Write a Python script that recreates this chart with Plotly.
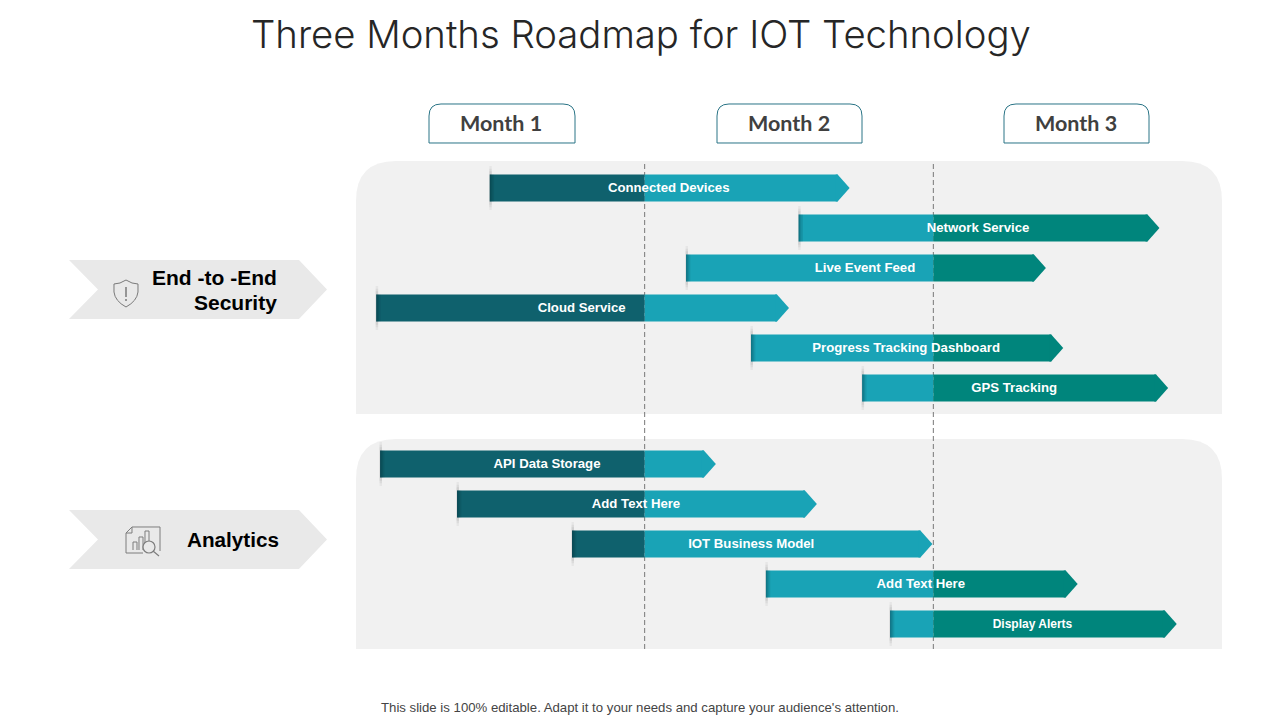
import plotly.graph_objects as go

W, H = 1280, 720
TITLE = "Three Months Roadmap for IOT Technology"
FOOTER = "This slide is 100% editable. Adapt it to your needs and capture your audience's attention."
MONTHS = ["Month 1", "Month 2", "Month 3"]
GROUP_A_LINES = ["End -to -End", "Security"]
GROUP_B = "Analytics"

# Tasks, timing in days from the start of Month 1 (30 days per month)
TASKS_A = ["Connected Devices", "Network Service", "Live Event Feed",
           "Cloud Service", "Progress Tracking Dashboard", "GPS Tracking"]
START_A = [13.9, 46.0, 34.3, 2.1, 41.05, 52.6]
END_A = [51.3, 83.5, 71.7, 45.0, 73.5, 84.4]
TASKS_B = ["API Data Storage", "Add Text Here", "IOT Business Model",
           "Add Text Here", "Display Alerts"]
START_B = [2.5, 10.5, 22.45, 42.6, 55.5]
END_B = [37.4, 47.9, 59.9, 75.0, 85.3]

MONTH_DAYS = 30
PX_PER_DAY = 866 / 90
PX_PER_ROW = 40
X0_PX, Y0_PX = 356, 188
GROUP_GAP = 0.9
COL = ["#0f616d", "#19a3b6", "#00857c"]


def px(x, y):
    return x / W, 1 - y / H


def path(points):
    """points: (cmd, x, y, ...) in pixels -> paper-space SVG path"""
    out = []
    for p in points:
        cmd, nums = p[0], p[1:]
        coords = []
        for i in range(0, len(nums), 2):
            a, b = px(nums[i], nums[i + 1])
            coords.append(f"{a:.5f},{b:.5f}")
        out.append(cmd + " ".join(coords))
    return " ".join(out)


def top_round(x0, y0, x1, y1, r):
    return path([("M", x0, y1), ("L", x0, y0 + r), ("Q", x0, y0, x0 + r, y0),
                 ("L", x1 - r, y0), ("Q", x1, y0, x1, y0 + r), ("L", x1, y1)]) + " Z"


fig = go.Figure()
shapes = []
annots = []


def pshape(d, fill=None, line=None, lw=1, layer="below"):
    shapes.append(dict(type="path", path=d, xref="paper", yref="paper", layer=layer,
                       fillcolor=fill or "rgba(0,0,0,0)",
                       line=dict(color=line or "rgba(0,0,0,0)", width=lw if line else 0)))


def text(x, y, s, size, color="#000", fam="Liberation Sans", anchor="center", bold=False, weight=None):
    a, b = px(x, y)
    font = dict(size=size, color=color, family=fam)
    if weight:
        font["weight"] = weight
    annots.append(dict(x=a, y=b, xref="paper", yref="paper", text=f"<b>{s}</b>" if bold else s,
                       showarrow=False, xanchor=anchor, yanchor="middle", align=anchor, font=font))


# panels
pshape(top_round(356, 161, 1222, 414, 40), fill="#f1f1f1")
pshape(top_round(356, 439, 1222, 649, 40), fill="#f1f1f1")

# dashed month boundaries
for m in (1, 2):
    shapes.append(dict(type="line", xref="x", yref="paper", x0=m * MONTH_DAYS, x1=m * MONTH_DAYS,
                       y0=1 - 649 / H, y1=1 - 161 / H, layer="below",
                       line=dict(color="#777777", width=1, dash="5px,3px")))

# month pills
for name, (a, b) in zip(MONTHS, [(429, 575), (717, 862), (1004, 1149)]):
    d = path([("M", a, 143), ("L", a, 116), ("Q", a, 104, a + 12, 104), ("L", b - 12, 104),
              ("Q", b, 104, b, 116), ("L", b, 143)]) + " Z"
    pshape(d, fill="#ffffff", line="#2a7486", lw=1)
    text((a + b) / 2 - 1, 123.5, name, 21.5, "#404040", "Lato", bold=True)

# group chevrons
for y0, y1 in [(260, 319), (510, 569)]:
    mid = (y0 + y1) / 2
    d = path([("M", 69, y0), ("L", 299, y0), ("L", 327, mid), ("L", 299, y1), ("L", 69, y1),
              ("L", 98, mid)]) + " Z"
    pshape(d, fill="#e9e9e9")
text(279, 277, GROUP_A_LINES[0], 21, "#000", anchor="right", bold=True)
text(279, 302, GROUP_A_LINES[1], 21, "#000", anchor="right", bold=True)
text(233, 539.5, GROUP_B, 20.7, "#000", bold=True)

# shield icon
pshape(path([("M", 126, 280), ("Q", 132, 284, 138, 284), ("L", 138, 292), ("Q", 137, 301, 126, 307),
             ("Q", 115, 301, 114, 292), ("L", 114, 284), ("Q", 120, 284, 126, 280)]) + " Z",
       line="#7a7a7a", lw=1)
pshape(path([("M", 126, 287), ("L", 126, 297), ("M", 126, 299), ("L", 126, 301)]), line="#7a7a7a", lw=1.5)

# analytics icon
pshape(path([("M", 132, 527), ("L", 160, 527), ("L", 160, 551), ("M", 132, 527), ("L", 126, 533),
             ("L", 126, 553), ("L", 143, 553), ("M", 126, 533), ("L", 132, 533), ("L", 132, 527)]),
       line="#7d7d7d", lw=1)
for a, top in [(133, 542), (139, 537), (145, 531)]:
    pshape(path([("M", a, 550), ("L", a, top), ("L", a + 4, top), ("L", a + 4, 550)]), line="#7d7d7d", lw=1)
shapes.append(dict(type="circle", xref="paper", yref="paper", x0=143 / W, x1=155 / W,
                   y0=1 - 553 / H, y1=1 - 541 / H, line=dict(color="#7d7d7d", width=1.2),
                   fillcolor="#e9e9e9", layer="below"))
pshape(path([("M", 153, 551), ("L", 159, 556)]), line="#7d7d7d", lw=1.2)

# rows
tasks = TASKS_A + TASKS_B
starts = START_A + START_B
ends = END_A + END_B
rows = list(range(len(TASKS_A))) + [len(TASKS_A) + GROUP_GAP + i for i in range(len(TASKS_B))]

BAR_H = 27 / PX_PER_ROW
TIP = 12 / PX_PER_DAY
SEAM = 0.2
for task, s, e, r in zip(tasks, starts, ends, rows):
    body_end = e - TIP
    # faint soft tick behind the start of the bar
    for half, alpha in [(0.55, 0.10), (0.48, 0.12), (0.42, 0.14)]:
        shapes.append(dict(type="rect", xref="x", yref="y", x0=s - 0.05, x1=s + 0.2, y0=r - half, y1=r + half,
                           layer="below", fillcolor=f"rgba(140,140,140,{alpha})", line=dict(width=0)))
    for m, c in enumerate(COL):
        a, b = max(s, m * MONTH_DAYS), min(body_end, (m + 1) * MONTH_DAYS)
        if b > a:
            fig.add_trace(go.Bar(orientation="h", y=[r], x=[b - a], base=[a], width=BAR_H,
                                 marker=dict(color=c, line=dict(width=0)), hoverinfo="skip"))
    tip_col = COL[min(int(body_end // MONTH_DAYS), 2)]
    tail = body_end - SEAM
    fig.add_trace(go.Scatter(x=[tail, body_end, e, body_end, tail, tail],
                             y=[r - BAR_H / 2, r - BAR_H / 2, r, r + BAR_H / 2, r + BAR_H / 2, r - BAR_H / 2],
                             mode="lines", fill="toself", fillcolor=tip_col, line=dict(width=0), hoverinfo="skip"))
    # soft darker lip on the start of the bar
    for wid, alpha in [(0.45, 0.10), (0.28, 0.12), (0.14, 0.14)]:
        shapes.append(dict(type="rect", xref="x", yref="y", x0=s, x1=s + wid, y0=r - BAR_H / 2, y1=r + BAR_H / 2,
                           layer="above", fillcolor=f"rgba(0,30,40,{alpha})", line=dict(width=0)))
    fig.add_trace(go.Scatter(x=[(s + e) / 2 - 0.1], y=[r + 0.025], mode="text", text=[f"<b>{task}</b>"],
                             textposition="middle center", hoverinfo="skip",
                             textfont=dict(color="#ffffff", family="Liberation Sans",
                                           size=12 if task == "Display Alerts" else 13.2)))

text(640.5, 34, TITLE, 38.3, "#262626", "Inter", weight=300)
text(639.5, 707, FOOTER, 13.2, "#444444")

fig.update_layout(
    width=W, height=H, autosize=False, margin=dict(l=0, r=0, t=0, b=0),
    paper_bgcolor="#ffffff", plot_bgcolor="#ffffff", showlegend=False, barmode="overlay",
    shapes=shapes, annotations=annots,
    xaxis=dict(range=[-X0_PX / PX_PER_DAY, (W - X0_PX) / PX_PER_DAY], visible=False, fixedrange=True),
    yaxis=dict(range=[(H - Y0_PX) / PX_PER_ROW, -Y0_PX / PX_PER_ROW], visible=False, fixedrange=True),
)
fig.write_html("out.html", config={"displayModeBar": False},
               post_script="document.body.style.margin='0';")
